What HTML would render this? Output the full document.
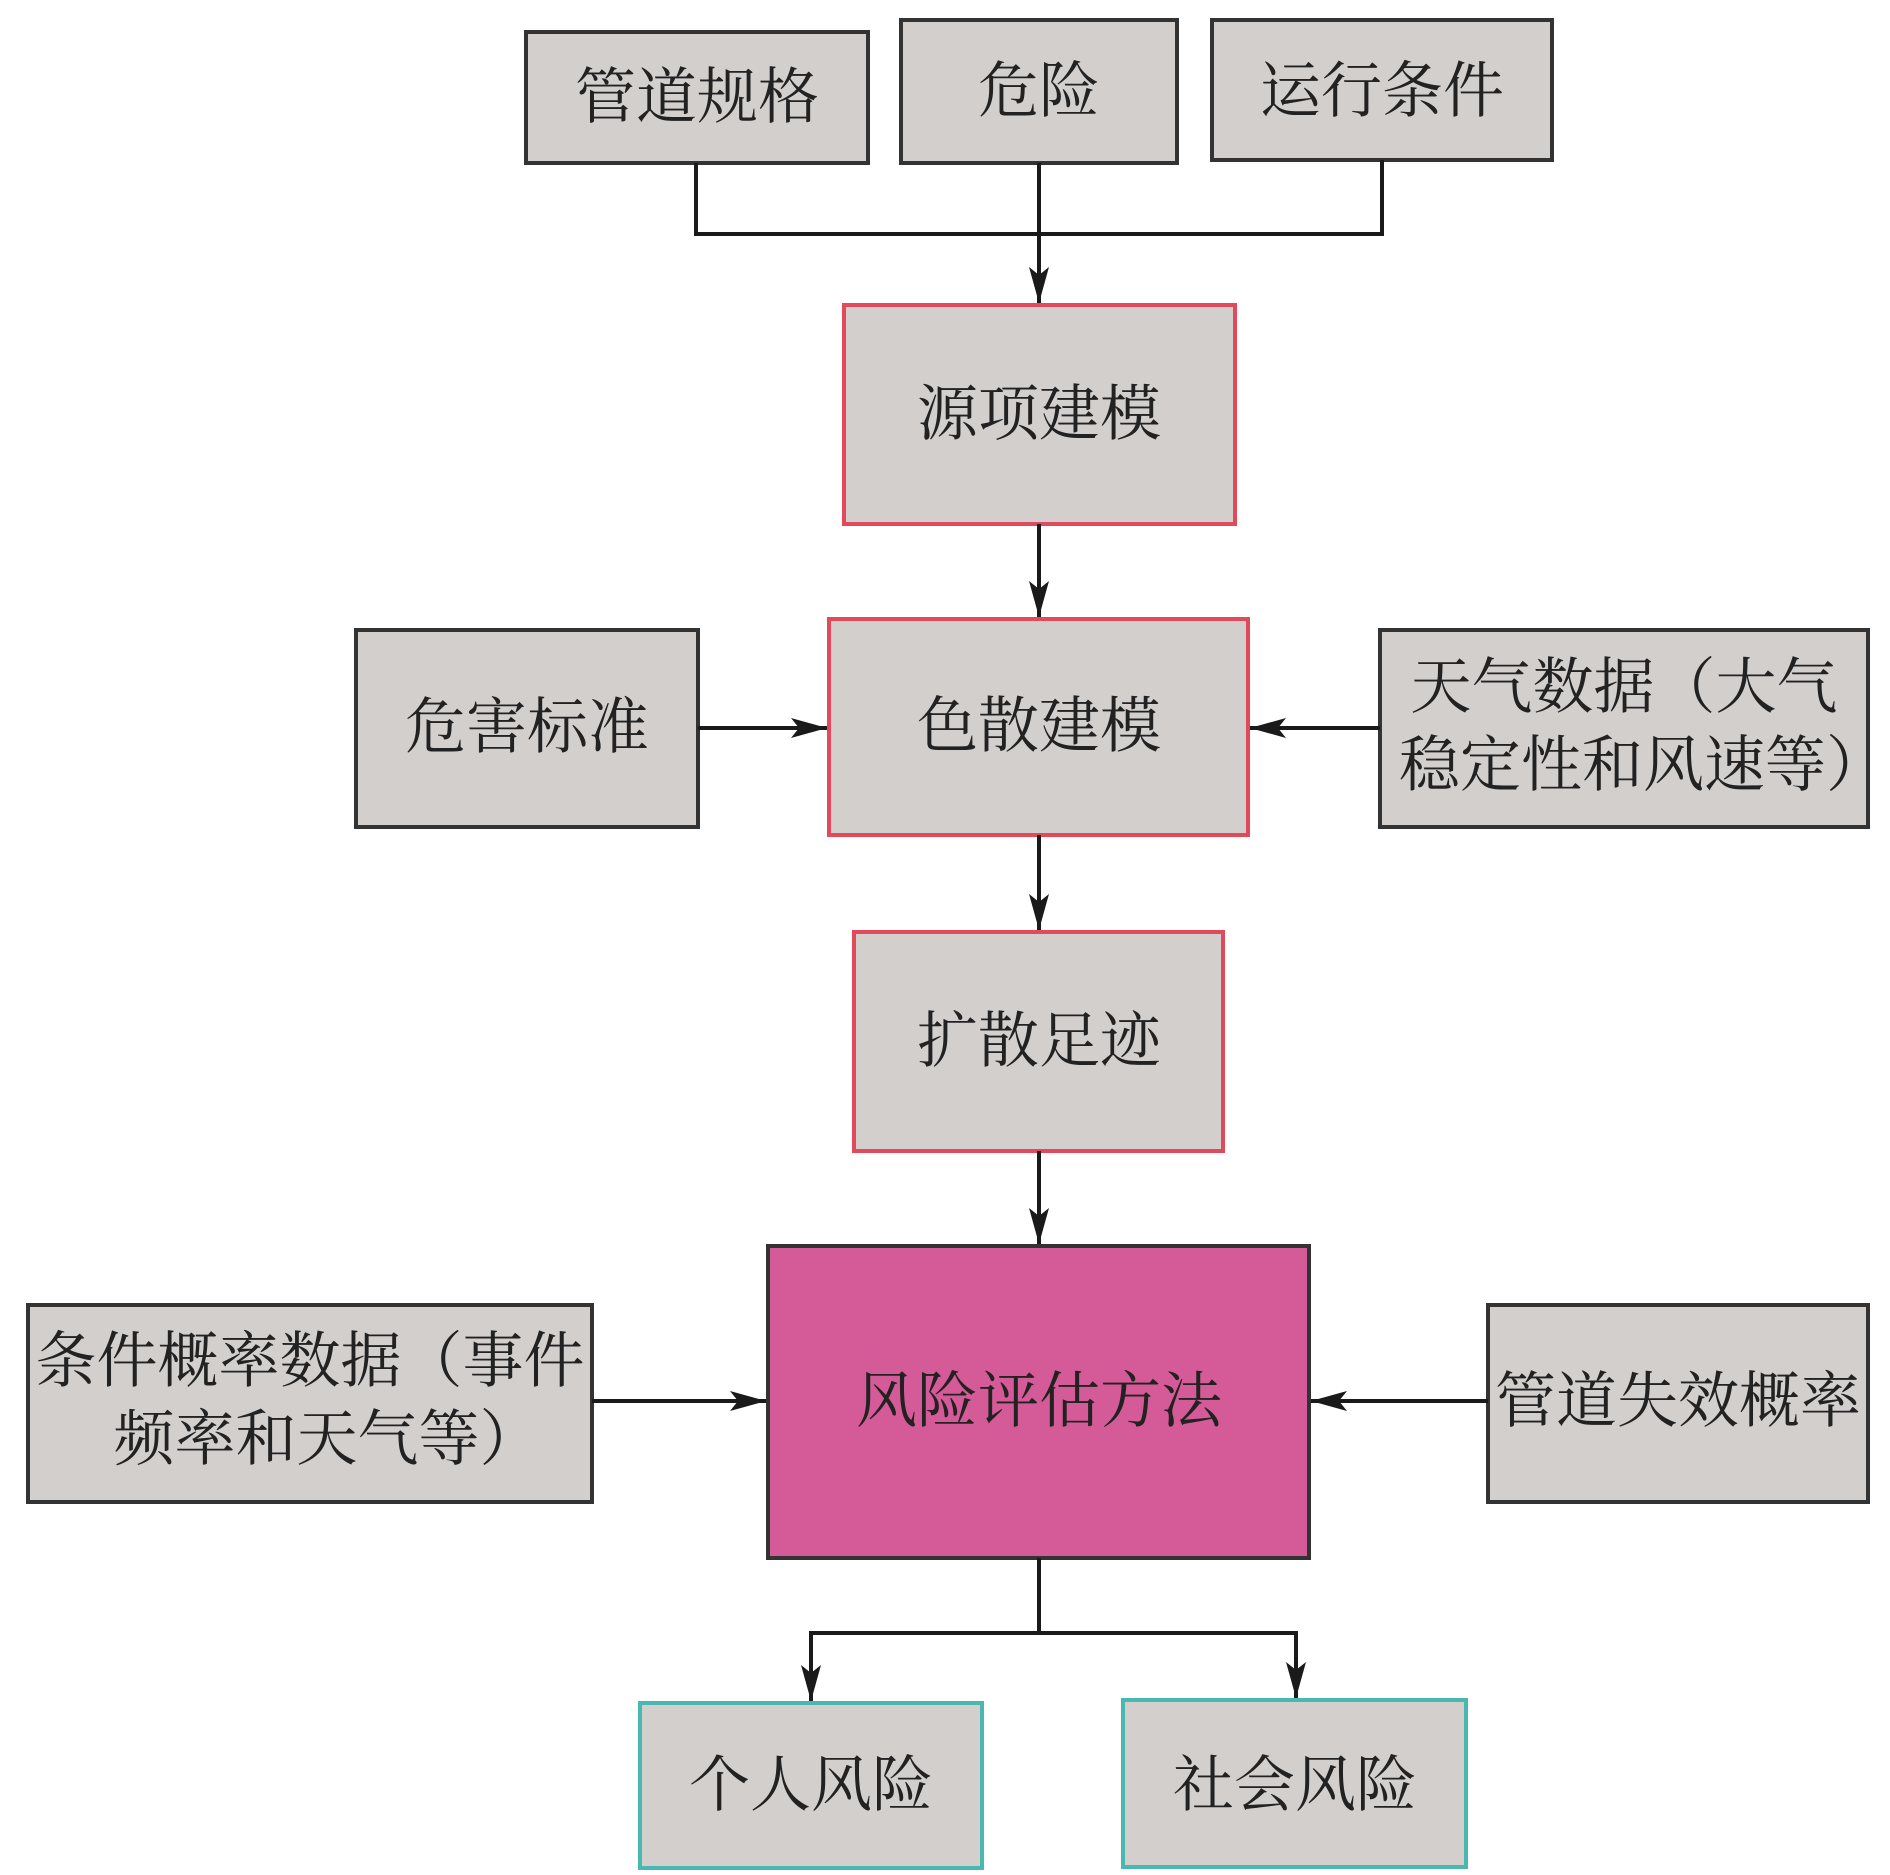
<!DOCTYPE html>
<html><head><meta charset="utf-8"><style>
html,body{margin:0;padding:0;background:#fff}
text{font-family:"Liberation Serif","Noto Serif CJK SC","Noto Sans CJK SC",serif;font-size:61px;fill:#222;text-anchor:middle;dominant-baseline:central}
</style></head><body>
<svg width="1890" height="1870" viewBox="0 0 1890 1870" xmlns="http://www.w3.org/2000/svg">
<defs>
<marker id="b" viewBox="0 0 36 20" refX="36" refY="10" markerWidth="36" markerHeight="20" orient="auto" markerUnits="userSpaceOnUse"><path d="M0,0 L36,10 L0,20 L8,10 Z" fill="#1a1a1a"/></marker></defs>
<g fill="#d3cfcd" stroke-width="4">
<rect x="526" y="32" width="342" height="131" stroke="#333"/>
<rect x="901" y="20" width="276" height="143" stroke="#333"/>
<rect x="1212" y="20" width="340" height="140" stroke="#333"/>
<rect x="844" y="305" width="391" height="219" stroke="#e04a5a"/>
<rect x="829" y="619" width="419" height="216" stroke="#e04a5a"/>
<rect x="356" y="630" width="342" height="197" stroke="#333"/>
<rect x="1380" y="630" width="488" height="197" stroke="#333"/>
<rect x="854" y="932" width="369" height="219" stroke="#e04a5a"/>
<rect x="768" y="1246" width="541" height="312" fill="#d55a98" stroke="#333"/>
<rect x="28" y="1305" width="564" height="197" stroke="#333"/>
<rect x="1488" y="1305" width="380" height="197" stroke="#333"/>
<rect x="640" y="1703" width="342" height="165" stroke="#4ab8b0"/>
<rect x="1123" y="1700" width="343" height="167" stroke="#4ab8b0"/>
</g>
<g stroke="#1a1a1a" stroke-width="4" fill="none">
<path d="M696,163 V234 H1382 V160"/>
<path d="M1039,163 V303" marker-end="url(#b)"/>
<path d="M1039,524 V617" marker-end="url(#b)"/>
<path d="M1039,835 V930" marker-end="url(#b)"/>
<path d="M1039,1151 V1244" marker-end="url(#b)"/>
<path d="M698,728 H827" marker-end="url(#b)"/>
<path d="M1380,728 H1250" marker-end="url(#b)"/>
<path d="M592,1401 H766" marker-end="url(#b)"/>
<path d="M1488,1401 H1311" marker-end="url(#b)"/>
<path d="M1039,1558 V1633 H811 V1701" marker-end="url(#b)"/>
<path d="M1039,1633 H1296 V1698" marker-end="url(#b)"/>
</g>
<text x="697" y="98">管道规格</text>
<text x="1039" y="92">危险</text>
<text x="1382" y="92">运行条件</text>
<text x="1039" y="415">源项建模</text>
<text x="1039" y="727">色散建模</text>
<text x="527" y="728">危害标准</text>
<text x="1624" y="688">天气数据（大气</text>
<text x="1643" y="766">稳定性和风速等）</text>
<text x="1039" y="1042">扩散足迹</text>
<text x="1039" y="1402">风险评估方法</text>
<text x="310" y="1362">条件概率数据（事件</text>
<text x="327" y="1440">频率和天气等）</text>
<text x="1678" y="1402">管道失效概率</text>
<text x="811" y="1786">个人风险</text>
<text x="1295" y="1786">社会风险</text>
</svg>
</body></html>
